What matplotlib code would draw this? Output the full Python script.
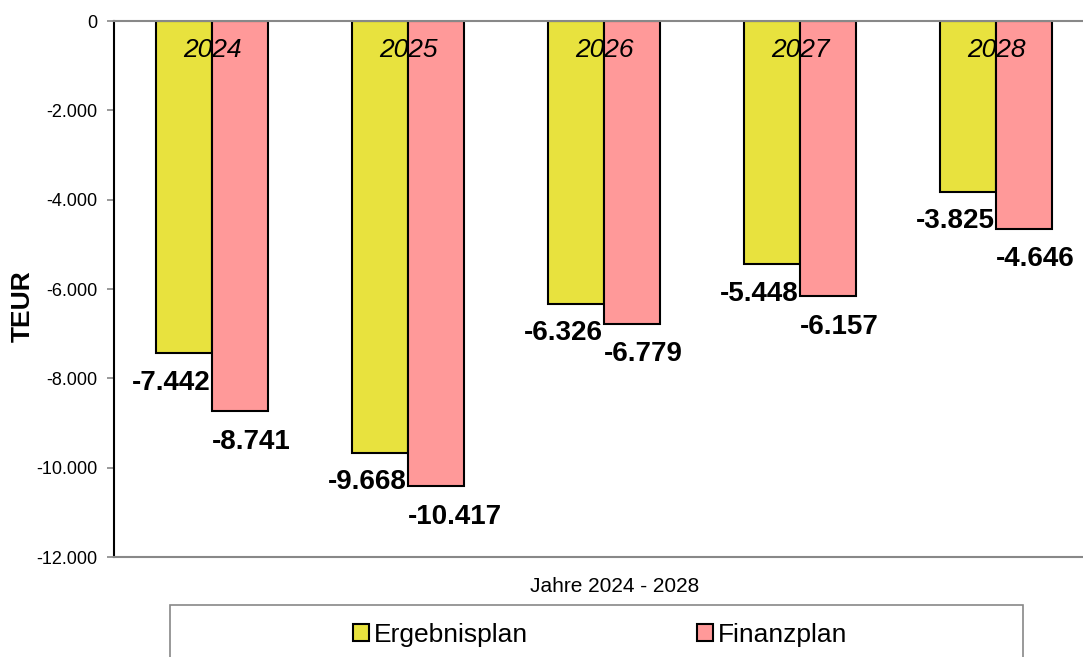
import numpy as np
import matplotlib.pyplot as plt
from matplotlib.patches import Patch, Rectangle

plt.rcParams['font.family'] = ['Liberation Sans', 'DejaVu Sans']

years = ['2024', '2025', '2026', '2027', '2028']
ergebnisplan = [-7442, -9668, -6326, -5448, -3825]
finanzplan = [-8741, -10417, -6779, -6157, -4646]
series_names = ['Ergebnisplan', 'Finanzplan']
colors = ['#E8E23E', '#FF9999']

def de_fmt(v):
    return f"{int(v):,}".replace(",", ".")

fig = plt.figure(figsize=(10.83, 6.57), dpi=100)
ax = fig.add_axes([114/1083, 1-557/657, 980/1083, 536/657])

x = np.arange(len(years))
w = 0.286
b1 = ax.bar(x - w/2, ergebnisplan, w, color=colors[0], edgecolor='black', linewidth=1.5, zorder=2)
b2 = ax.bar(x + w/2, finanzplan, w, color=colors[1], edgecolor='black', linewidth=1.5, zorder=2)

# value labels sit below the bar ends, drawn behind the bars like in excel
for r, v in zip(b1, ergebnisplan):
    ax.annotate(de_fmt(v), (r.get_x() + r.get_width(), v), xytext=(-1, -21),
                textcoords='offset points', ha='right', va='center',
                fontsize=20, fontweight='bold', zorder=1)
for r, v in zip(b2, finanzplan):
    ax.annotate(de_fmt(v), (r.get_x(), v), xytext=(0, -22),
                textcoords='offset points', ha='left', va='center',
                fontsize=20, fontweight='bold', zorder=1)

for xi, y in zip(x, years):
    ax.text(xi, -650, y, ha='center', va='center', fontsize=19, style='italic', zorder=3)

ax.set_xlim(-0.5, len(years) - 0.5)
ax.set_ylim(-12000, 0)
ax.set_yticks(np.arange(-12000, 1, 2000))
ax.set_yticklabels([de_fmt(v) for v in np.arange(-12000, 1, 2000)], fontsize=13)
ax.set_xticks([])
ax.tick_params(axis='y', length=5, width=1.2, color='#888888', pad=7)

ax.spines['left'].set_color('black')
ax.spines['left'].set_linewidth(1.5)
ax.spines['top'].set_color('#888888')
ax.spines['top'].set_linewidth(1.5)
ax.spines['bottom'].set_color('#888888')
ax.spines['bottom'].set_linewidth(1.5)
ax.spines['right'].set_visible(False)

fig.text(23/1083, 1-306/657, 'TEUR', rotation=90, ha='center', va='center',
         fontsize=19, fontweight='bold')
fig.text(615/1083, 1-587/657, 'Jahre 2024 - 2028', ha='center', va='center', fontsize=15)

# legend box, runs off the bottom edge
fig.patches.append(Rectangle((170/1083, -0.05), (1023-170)/1083, (1-605/657) + 0.05,
                             transform=fig.transFigure, facecolor='white',
                             edgecolor='#888888', linewidth=1.2))
handles = [Patch(facecolor=c, edgecolor='black', linewidth=1.5) for c in colors]
fig.legend(handles, series_names, loc='center', bbox_to_anchor=(600/1083, 1-635/657),
           ncol=2, frameon=False, fontsize=19, handlelength=0.6, handleheight=0.6,
           handletextpad=0.2, columnspacing=6.4)

fig.savefig('out.png', dpi=100)
